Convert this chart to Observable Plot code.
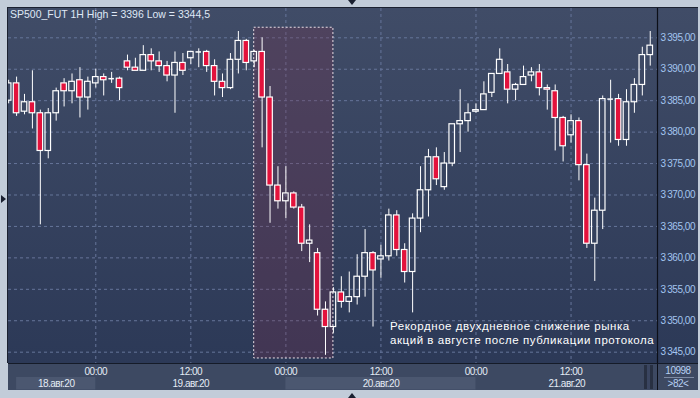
<!DOCTYPE html>
<html><head><meta charset="utf-8">
<script src="https://cdn.jsdelivr.net/npm/d3@7"></script>
<script src="https://cdn.jsdelivr.net/npm/@observablehq/plot@0.6"></script>
<style>
html,body{margin:0;padding:0;background:#c2ccd9;}
#frame{position:relative;width:700px;height:398px;background:#c2ccd9;overflow:hidden;font-family:"Liberation Sans",Arial,sans-serif;}
#chart{position:absolute;left:7px;top:7px;border-left:1px solid #1b2130;border-top:1px solid #1b2130;line-height:0;}
#time{position:absolute;left:8px;top:363px;border-top:1px solid #151b28;line-height:0;}
#corner{position:absolute;left:657px;top:363px;width:41px;height:27px;background:#3d4962;border-left:1px solid #0c0f18;border-top:1px solid #151b28;box-sizing:border-box;color:#b7d0f2;font-size:10px;letter-spacing:-0.5px;text-align:center;}
#corner .a{position:absolute;left:0;right:0;top:1px;line-height:12px;}
#corner .sep{position:absolute;left:6px;right:4px;top:13px;border-top:1px solid #7d8aa3;}
#corner .b{position:absolute;left:0;right:0;top:14px;line-height:12px;}
#scroll{position:absolute;left:644px;top:365px;width:3px;height:24px;background:#283042;border-right:3px solid #3a4560;}
#scroll2{position:absolute;left:650px;top:365px;width:3px;height:24px;background:#283042;}
#header{position:absolute;left:10px;top:8px;font-size:10.5px;line-height:12px;letter-spacing:0px;color:#dfe8f5;white-space:nowrap;}
#note{position:absolute;left:390px;top:319px;font-size:11.5px;line-height:14px;letter-spacing:0.55px;color:#ffffff;white-space:nowrap;}
.tri{position:absolute;width:0;height:0;}
#triTop{left:348px;top:0;border-left:4px solid transparent;border-right:4px solid transparent;border-top:5px solid #1a2030;}
#triBot{left:348px;top:393px;border-left:4px solid transparent;border-right:4px solid transparent;border-bottom:5px solid #1a2030;}
#triLeft{left:1px;top:195px;border-top:4.5px solid transparent;border-bottom:4.5px solid transparent;border-left:5px solid #1a2030;}
#chart svg g[aria-label="y-axis tick label"] text{letter-spacing:-0.45px;}
#time svg text{letter-spacing:-0.5px;}
</style>
</head>
<body>
<div id="frame">
  <div id="chart"></div>
  <div id="time"></div>
  <div id="scroll"></div><div id="scroll2"></div>
  <div id="corner"><div class="a">10998</div><div class="sep"></div><div class="b">&gt;82&lt;</div></div>
  <div id="header">SP500_FUT 1H High = 3396 Low = 3344,5</div>
  <div id="note">Рекордное двухдневное снижение рынка<br>акций в августе после публикации протокола</div>
  <div class="tri" id="triTop"></div>
  <div class="tri" id="triBot"></div>
  <div class="tri" id="triLeft"></div>
</div>
<script>
// ---- data ----
const startTime = "2020-08-18T13:00:00Z"; // first hourly bar (partly cut off)
const open = [3385.0,3387.75,3383.25,3384.75,3383.0,3377.0,3383.0,3387.75,3386.5,3388.25,3385.5,
  3387.75,3388.75,3388.5,3388.5,3391.25,3390.25,3389.75,3392.25,3391.25,3390.5,3389.0,3391.0,3391.75,3392.75,3392.75,3390.5,3388.0,3387.0,3391.5,3394.5,
  3391.25,3392.75,3385.5,3371.5,3369.0,3370.25,3368.0,3362.25,3360.75,3351.75,3349.0,3354.5,3353.0,3353.75,3357.0,3360.75,3359.75,3360.25,3366.75,3361.25,
  3357.75,3366.25,3370.75,3376.0,3371.25,3375.0,3381.25,3381.75,3383.25,3383.5,3386.25,3389.25,3389.5,3386.75,3387.5,3389.0,3389.5,3387.0,3386.5,3382.25,
  3379.5,3381.75,3374.75,3362.25,3367.5,3385.25,3385.25,3378.75,3384.75,3387.5,3392.25];
const high = [3388.25,3388.75,3386.0,3389.75,3383.5,3383.75,3387.0,3388.5,3389.25,3390.25,3388.75,
  3390.0,3389.25,3389.5,3388.75,3392.25,3391.75,3393.75,3393.25,3392.75,3391.25,3392.75,3392.5,3392.75,3393.25,3393.0,3391.5,3389.25,3392.5,3396.0,3394.75,
  3393.0,3395.0,3387.25,3374.5,3374.5,3370.5,3368.5,3365.25,3361.5,3353.0,3355.25,3357.0,3357.75,3360.5,3364.5,3361.0,3362.0,3367.75,3367.5,3362.25,
  3367.0,3374.5,3377.25,3377.5,3376.75,3381.25,3386.75,3384.5,3384.5,3388.0,3389.25,3393.25,3390.75,3387.75,3390.5,3390.25,3390.75,3387.5,3387.5,3382.5,
  3382.75,3382.25,3376.5,3369.5,3385.75,3388.25,3386.0,3386.75,3388.5,3393.5,3396.0];
const low = [3384.5,3382.5,3382.75,3380.5,3365.25,3375.75,3381.75,3384.0,3384.5,3382.25,3383.5,
  3387.0,3385.75,3387.75,3385.0,3389.75,3389.75,3389.75,3389.75,3389.5,3388.0,3383.0,3389.0,3390.75,3390.25,3389.5,3385.75,3385.5,3386.75,3389.25,3389.75,
  3390.25,3377.5,3365.5,3367.75,3366.25,3367.75,3361.0,3359.25,3350.75,3344.5,3348.0,3352.0,3351.25,3352.5,3353.75,3349.0,3356.75,3359.5,3360.25,3356.0,
  3351.25,3364.0,3366.5,3371.5,3370.75,3374.5,3376.75,3380.0,3383.0,3383.5,3385.5,3389.25,3384.5,3385.0,3387.5,3388.0,3385.75,3383.5,3377.0,3375.25,
  3378.25,3372.25,3361.5,3356.25,3364.5,3378.25,3377.75,3377.75,3383.0,3385.75,3390.5];
const close = [3387.75,3383.0,3384.75,3383.0,3377.0,3383.0,3386.5,3386.5,3388.0,3385.5,3388.0,
  3388.75,3388.25,3388.5,3387.0,3390.25,3389.75,3392.25,3391.25,3390.5,3389.0,3391.0,3389.75,3392.75,3392.75,3390.5,3388.0,3387.0,3391.5,3394.5,3391.0,
  3392.75,3385.5,3371.5,3369.0,3370.25,3368.0,3362.25,3362.75,3351.75,3349.0,3354.5,3353.0,3353.75,3357.0,3360.75,3358.0,3360.25,3366.75,3361.25,3357.75,
  3366.25,3370.75,3376.0,3372.5,3375.0,3381.25,3381.75,3383.0,3383.5,3386.0,3389.25,3391.5,3386.75,3387.5,3388.75,3389.5,3387.0,3386.75,3382.25,3377.75,
  3381.75,3374.75,3362.25,3367.5,3385.25,3385.25,3378.75,3384.75,3387.5,3392.25,3393.75];

const xDomain = ["2020-08-18T12:58:48Z", "2020-08-21T22:55:00Z"];
const yDomain = [3343.2, 3399.66];
const priceTicks = [3345, 3350, 3355, 3360, 3365, 3370, 3375, 3380, 3385, 3390, 3395];
const timeTicks = ["2020-08-19T00:00:00Z","2020-08-19T12:00:00Z","2020-08-20T00:00:00Z","2020-08-20T12:00:00Z","2020-08-21T00:00:00Z","2020-08-21T12:00:00Z"];
const dayStarts = ["2020-08-18T14:00:00Z","2020-08-19T00:00:00Z","2020-08-20T00:00:00Z","2020-08-21T00:00:00Z"];
const dayEnds = ["2020-08-19T00:00:00Z","2020-08-20T00:00:00Z","2020-08-21T00:00:00Z","2020-08-21T22:55:00Z"];
const dayLabels = ["18.авг.20","19.авг.20","20.авг.20","21.авг.20"];
const highlightStart = "2020-08-19T20:00:00Z";
const highlightEnd = "2020-08-20T06:00:00Z";
const highlightLow = 3344;
const highlightHigh = 3396.6;

// ---- build ----
const t0 = new Date(startTime);
const bars = open.map((o, i) => ({t: d3.utcHour.offset(t0, i), o, h: high[i], l: low[i], c: close[i]}));
const xD = xDomain.map(d => new Date(d));
const half = 21; // minutes, half body width
const bx1 = d => d3.utcMinute.offset(d.t, -half);
const bx2 = d => d3.utcMinute.offset(d.t, half);
const loc = d3.formatLocale({decimal: ",", thousands: "\u2009", grouping: [3], currency: ["", ""]});
const fmtPrice = loc.format(",.2f");
const gridColor = "#66759a";

const main = Plot.plot({
  width: 690, height: 355,
  marginLeft: 0, marginRight: 41, marginTop: 0, marginBottom: 0,
  x: {type: "utc", domain: xD, axis: null},
  y: {domain: yDomain, axis: null},
  style: {background: "linear-gradient(#404c67, #2c3957)", color: "#a3c5ef", fontFamily: "Liberation Sans, Arial, sans-serif", fontSize: "10px"},
  marks: [
    Plot.ruleY(priceTicks, {y: d => d, stroke: gridColor, strokeDasharray: "3,3"}),
    Plot.ruleX(timeTicks, {x: d => new Date(d), stroke: gridColor, strokeDasharray: "3,3"}),
    Plot.rect([{a: highlightStart, b: highlightEnd, lo: highlightLow, hi: highlightHigh}], {
      x1: d => new Date(d.a), x2: d => new Date(d.b), y1: "lo", y2: "hi",
      fill: "#7a2f4c", fillOpacity: 0.28, stroke: "#eadfe6", strokeDasharray: "2,2", strokeWidth: 1
    }),
    Plot.ruleX(bars, {x: "t", y1: d => Math.max(d.o, d.c), y2: "h", stroke: "#ffffff"}),
    Plot.ruleX(bars, {x: "t", y1: d => Math.min(d.o, d.c), y2: "l", stroke: "#ffffff"}),
    Plot.rect(bars.filter(d => d.c > d.o), {x1: bx1, x2: bx2, y1: "o", y2: "c", fill: "none", stroke: "#ffffff", strokeWidth: 1.2}),
    Plot.rect(bars.filter(d => d.c < d.o), {x1: bx1, x2: bx2, y1: "o", y2: "c", fill: "#e3123c", stroke: "#ffffff", strokeWidth: 1.2}),
    Plot.ruleY(bars.filter(d => d.c === d.o), {y: "o", x1: bx1, x2: bx2, stroke: "#ffffff", strokeWidth: 1.5}),
    Plot.ruleX([xDomain[1]], {x: d => new Date(d), stroke: "#0c0f18", strokeWidth: 1.2}),
    Plot.axisY(priceTicks, {anchor: "right", tickSize: 0, tickPadding: 3, tickFormat: fmtPrice, fill: "#a3c5ef", fontSize: 10})
  ]
});
document.getElementById("chart").appendChild(main);

const days = dayLabels.map((label, i) => ({label, a: new Date(dayStarts[i]), b: new Date(dayEnds[i]), shade: i % 2 === 0}));
const timePanel = Plot.plot({
  width: 649, height: 26,
  marginLeft: 0, marginRight: 0, marginTop: 0, marginBottom: 0,
  x: {type: "utc", domain: xD, axis: null},
  style: {background: "#3d4962", color: "#e4ebf5", fontFamily: "Liberation Sans, Arial, sans-serif", fontSize: "10px"},
  marks: [
    Plot.rect(days.filter(d => d.shade), {x1: "a", x2: "b", fill: "#4b5770", insetTop: 13, insetBottom: 0.5}),
    Plot.text(timeTicks, {x: d => new Date(d), text: d => d3.utcFormat("%H:%M")(new Date(d)), frameAnchor: "top", lineAnchor: "middle", dy: 7.5, fill: "#e4ebf5"}),
    Plot.text(days, {x: d => new Date((+d.a + +d.b) / 2), text: "label", frameAnchor: "bottom", lineAnchor: "middle", dy: -7, fill: "#e4ebf5"})
  ]
});
document.getElementById("time").appendChild(timePanel);
</script>
</body></html>
